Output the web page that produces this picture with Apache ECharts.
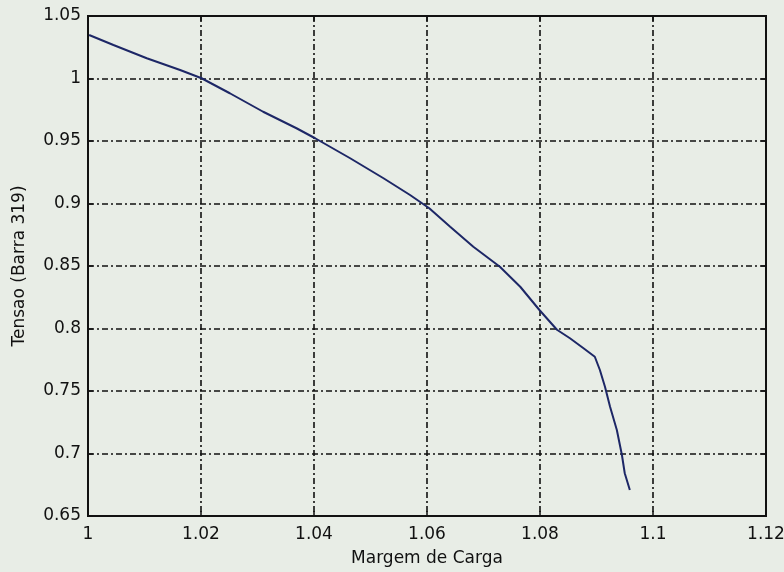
<!DOCTYPE html>
<html>
<head>
<meta charset="utf-8">
<script src="https://cdn.jsdelivr.net/npm/echarts@6/dist/echarts.min.js"></script>
<style>
  html, body { margin: 0; padding: 0; background: #e8ede6; }
  #chart { width: 784px; height: 572px; }
</style>
</head>
<body>
<div id="chart"></div>
<script>
// Load margin (x) versus bus voltage (y), PV curve for bus 319
const margemCarga = [
  1.0002, 1.0045, 1.0104, 1.0163, 1.0201, 1.0251, 1.0310, 1.0369, 1.0402,
  1.0464, 1.0523, 1.0570, 1.0604, 1.0641, 1.0682, 1.0729, 1.0765, 1.0799,
  1.0830, 1.0853, 1.0877, 1.0897, 1.0906, 1.0915, 1.0924, 1.0936, 1.0945,
  1.0950, 1.0959
];
const tensao = [
  1.0348, 1.0268, 1.0162, 1.0068, 1.0002, 0.9882, 0.9734, 0.9602, 0.9522,
  0.9362, 0.9202, 0.9068, 0.8962, 0.8814, 0.8654, 0.8494, 0.8334, 0.8148,
  0.7990, 0.7922, 0.7842, 0.7774, 0.7668, 0.7534, 0.7374, 0.7188, 0.6988,
  0.6842, 0.6708
];
const xTicks = ['1', '1.02', '1.04', '1.06', '1.08', '1.1', '1.12'];
const yTicks = ['0.65', '0.7', '0.75', '0.8', '0.85', '0.9', '0.95', '1', '1.05'];

const points = margemCarga.map((x, i) => [x, tensao[i]]);
const fontFam = '"DejaVu Sans", "Liberation Sans", sans-serif';
const gridLine = { show: true, lineStyle: { color: '#111', width: 1.6, type: [6, 3, 2, 3] } };

const chart = echarts.init(document.getElementById('chart'));
chart.setOption({
  backgroundColor: '#e8ede6',
  animation: false,
  grid: {
    left: 88, top: 16, width: 678, height: 500,
    outerBoundsMode: 'none', containLabel: false,
    show: true, borderColor: '#111', borderWidth: 2, backgroundColor: 'transparent'
  },
  xAxis: [{
    type: 'value', min: 1, max: 1.12, interval: 0.02,
    name: 'Margem de Carga', nameLocation: 'middle', nameGap: 34,
    nameTextStyle: { fontFamily: fontFam, fontSize: 17, color: '#111' },
    axisLine: { show: true, lineStyle: { color: '#111', width: 2 } },
    axisTick: { show: true, inside: true, length: 5, lineStyle: { color: '#111', width: 1.5 } },
    axisLabel: {
      fontFamily: fontFam, fontSize: 17, color: '#111', margin: 10,
      formatter: v => xTicks[Math.round((v - 1) / 0.02)]
    },
    splitLine: gridLine
  }, {
    type: 'value', position: 'top', min: 1, max: 1.12, interval: 0.02,
    axisLine: { show: true, lineStyle: { color: '#111', width: 2 } },
    axisTick: { show: true, inside: true, length: 5, lineStyle: { color: '#111', width: 1.5 } },
    axisLabel: { show: false }, splitLine: { show: false }
  }],
  yAxis: [{
    type: 'value', min: 0.65, max: 1.05, interval: 0.05,
    name: 'Tensao (Barra 319)', nameLocation: 'middle', nameGap: 60, nameRotate: 90,
    nameTextStyle: { fontFamily: fontFam, fontSize: 17, color: '#111' },
    axisLine: { show: true, lineStyle: { color: '#111', width: 2 } },
    axisTick: { show: true, inside: true, length: 5, lineStyle: { color: '#111', width: 1.5 } },
    axisLabel: {
      fontFamily: fontFam, fontSize: 17, color: '#111', margin: 7,
      formatter: v => yTicks[Math.round((v - 0.65) / 0.05)]
    },
    splitLine: gridLine
  }, {
    type: 'value', position: 'right', min: 0.65, max: 1.05, interval: 0.05,
    axisLine: { show: true, lineStyle: { color: '#111', width: 2 } },
    axisTick: { show: true, inside: true, length: 5, lineStyle: { color: '#111', width: 1.5 } },
    axisLabel: { show: false }, splitLine: { show: false }
  }],
  series: [{
    type: 'line', data: points, showSymbol: false, smooth: false,
    lineStyle: { color: '#1d2766', width: 2 }
  }]
});
</script>
</body>
</html>
